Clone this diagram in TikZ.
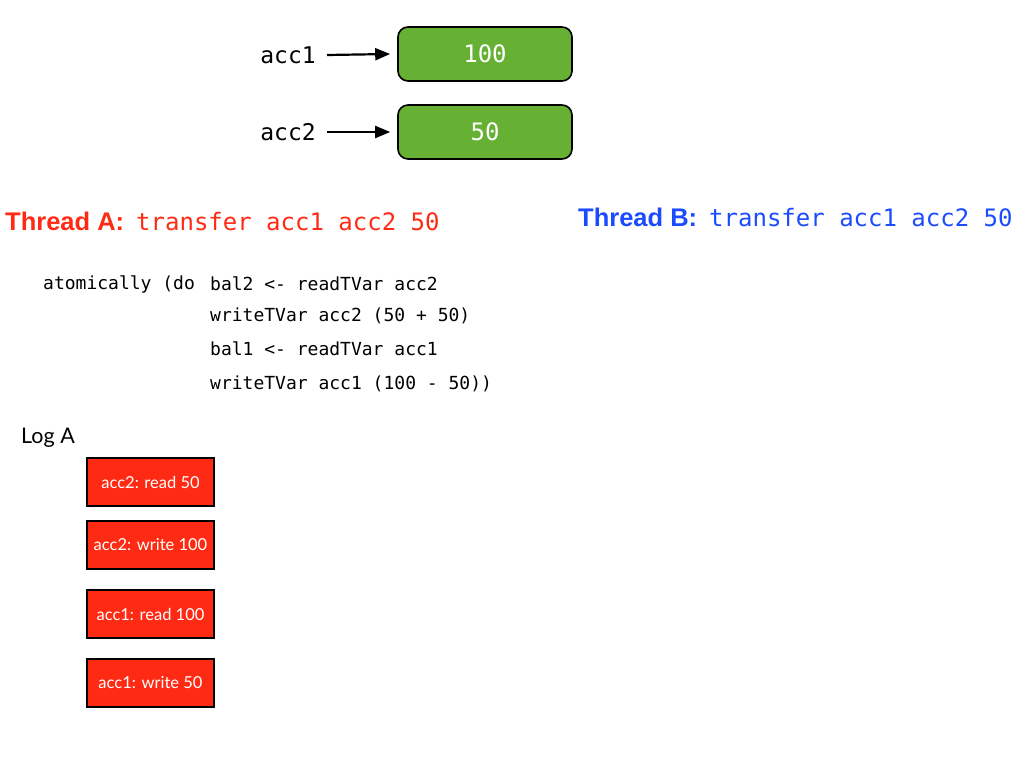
\documentclass[tikz,border=0pt]{standalone}
\usepackage{fontspec}
\usetikzlibrary{arrows.meta}
\setmainfont{Liberation Sans}
\newfontfamily\codefont{DejaVu Sans Mono}
\newfontfamily\gillfont{Lato}
\definecolor{boxgreen}{HTML}{66B033}
\definecolor{logred}{HTML}{FF2A14}
\definecolor{thredA}{HTML}{FF2A14}
\definecolor{thrblue}{HTML}{1A4BFF}
\begin{document}
\begin{tikzpicture}[x=1pt,y=-1pt,
  valbox/.style={draw=black,line width=1.6pt,rounded corners=10pt,fill=boxgreen,minimum width=174pt,minimum height=54pt,inner sep=0pt,text=white,font=\codefont\fontsize{24}{28}\selectfont},
  varlbl/.style={font=\codefont\fontsize{23}{27}\selectfont,inner sep=0pt},
  ptr/.style={-{Triangle[length=15pt,width=12pt]},line width=2.2pt},
  codeline/.style={anchor=west,inner sep=0pt,font=\codefont\fontsize{18}{22}\selectfont},
  logbox/.style={draw=black,line width=1.5pt,fill=logred,minimum width=127pt,minimum height=48pt,inner sep=0pt,text=white,font=\gillfont\fontsize{16.5}{19}\selectfont},
  threadlbl/.style={anchor=west,inner sep=0pt}]
\useasboundingbox (0,0) rectangle (1024,768);
\node[valbox] (v1) at (485,54) {100};
\node[valbox] (v2) at (485,132) {50};
\node[varlbl] (a1) at (288,55) {acc1};
\node[varlbl] (a2) at (288,132) {acc2};
\coordinate (p1) at (327,55);
\coordinate (p2) at (327,132);
\draw[ptr] (p1) -- ([xshift=-7pt]v1.west);
\draw[ptr] (p2) -- ([xshift=-7pt]v2.west);
\node[threadlbl,text=thredA] (ta) at (5,221) {{\bfseries\fontsize{25.5}{29}\selectfont Thread A:}\hspace{12pt}{\codefont\fontsize{24}{28}\selectfont transfer acc1 acc2 50}};
\node[threadlbl,text=thrblue] (tb) at (578,217) {{\bfseries\fontsize{25.5}{29}\selectfont Thread B:}\hspace{12pt}{\codefont\fontsize{24}{28}\selectfont transfer acc1 acc2 50}};
\node[codeline] (c0) at (43,284) {atomically (do};
\node[codeline] (c1) at (210,284) {bal2 <- readTVar acc2};
\node[codeline] (c2) at (210,316) {writeTVar acc2 (50 + 50)};
\node[codeline] (c3) at (210,349) {bal1 <- readTVar acc1};
\node[codeline] (c4) at (210,384) {writeTVar acc1 (100 - 50))};
\node[anchor=west,inner sep=0pt,font=\gillfont\fontsize{21.5}{25}\selectfont] (log) at (21,438) {Log A};
\node[logbox] (l1) at (150.5,482) {acc2: read 50};
\node[logbox] (l2) at (150.5,545) {acc2: write 100};
\node[logbox] (l3) at (150.5,614) {acc1: read 100};
\node[logbox] (l4) at (150.5,683) {acc1: write 50};
\end{tikzpicture}
\end{document}
